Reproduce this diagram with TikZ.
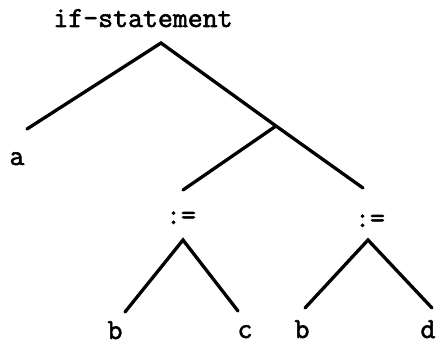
\documentclass[tikz,border=0pt]{standalone}
\usepackage{fontspec}
\newfontfamily\treefont[FakeBold=2]{Latin Modern Mono}
\begin{document}
\begin{tikzpicture}[x=1pt,y=-1pt,
  lbl/.style={font=\treefont\fontsize{29}{29}\selectfont, inner sep=0pt, anchor=base},
  edge/.style={line width=3.3pt, line cap=round, line join=miter}]
\useasboundingbox (0,0) rectangle (436,345);
% labels
\node[lbl] (root) at (143,27) {if-statement};
\node[lbl] (a) at (17,165) {a};
\node[lbl] (as1) at (181,224) {:=};
\node[lbl] (as2) at (370,227) {:=};
\node[lbl] (b1) at (115,339) {b};
\node[lbl] (c) at (245,338) {c};
\node[lbl] (b2) at (302,338) {b};
\node[lbl] (d) at (428,338) {d};
% tree points
\coordinate (top) at (161,43);
\coordinate (aend) at (27,129);
\coordinate (mid) at (276,126);
\coordinate (l1) at (183,190);
\coordinate (r1) at (363,188);
\coordinate (t1) at (183,240);
\coordinate (t2) at (368,240);
\coordinate (b1end) at (125,312);
\coordinate (cend) at (238,311);
\coordinate (b2end) at (305,308);
\coordinate (dend) at (432,308);
% edges
\draw[edge] (aend) -- (top) -- (mid) -- (r1);
\draw[edge] (mid) -- (l1);
\draw[edge] (b1end) -- (t1) -- (cend);
\draw[edge] (b2end) -- (t2) -- (dend);
\end{tikzpicture}
\end{document}
